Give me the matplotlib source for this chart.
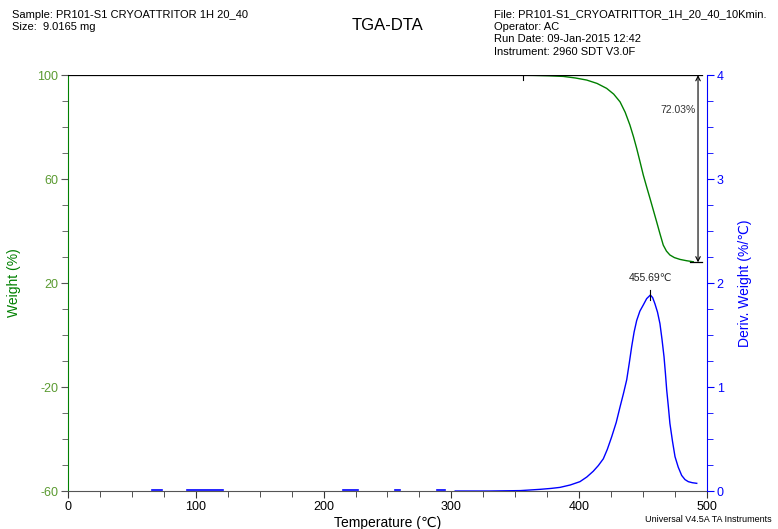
import numpy as np
import matplotlib.pyplot as plt
from matplotlib.ticker import MultipleLocator

plt.rcParams['font.family'] = ['Liberation Sans', 'DejaVu Sans']
plt.rcParams['axes.unicode_minus'] = False

# weight curve (%)
w_temp = [222, 300, 350, 364, 376, 387.6, 397, 405.9, 414, 421.5, 427, 432,
          436, 439.7, 442.5, 445, 447.6, 450.2, 452.8, 455.4, 458, 460.6,
          463.2, 465.8, 468.3, 471, 474.5, 478.9, 484, 489.3]
w_val = [100, 100, 99.98, 99.9, 99.75, 99.5, 98.9, 98.1, 96.8, 94.9, 92.7, 89.7,
         85.7, 80.8, 76.3, 71.8, 66.7, 61.5, 57.0, 52.6, 48.1, 43.6,
         39.0, 34.6, 32.3, 30.8, 29.8, 29.1, 28.6, 28.2]

# derivative weight curve (%/C)
d_temp = [303, 330, 354, 369.3, 378, 385, 393, 400.6, 406, 411, 415, 418.9,
          422, 425.4, 429, 432, 434.7, 437.2, 439.2, 441.1, 443, 445, 447.5,
          450.2, 452.8, 455.7, 457.5, 459.3, 461.3, 463.2, 464.8, 466.4,
          467.5, 468.5, 469.8, 471, 473, 475, 477.5, 480.2, 482.8, 485.4,
          488.5, 492]
d_val = [0.0, 0.0, 0.004, 0.016, 0.025, 0.035, 0.058, 0.09, 0.135, 0.19, 0.245,
         0.31, 0.4, 0.52, 0.66, 0.81, 0.94, 1.07, 1.23, 1.39, 1.53, 1.64, 1.73,
         1.79, 1.85, 1.885, 1.86, 1.80, 1.72, 1.61, 1.46, 1.29, 1.13, 0.97,
         0.81, 0.65, 0.48, 0.33, 0.23, 0.15, 0.11, 0.09, 0.08, 0.074]
# noisy baseline pieces at low temperature
d_noise = [(65.7, 73.5), (93, 121), (215, 227), (256, 260), (289, 295)]

step_start = 356
step_end = 493
w_top = 100.0
w_bot = 27.97
loss_txt = "72.03%"
peak_T = 455.69
peak_d = 1.885

fig = plt.figure(figsize=(7.78, 5.29), dpi=100)
ax = fig.add_axes([0.0874, 0.0718, 0.8213, 0.7862])
ax2 = ax.twinx()

green = "#008000"
blue = "#0000ff"

ax.plot(w_temp, w_val, color=green, lw=1.0, zorder=3)
ax.plot([0, step_end + 3], [w_top, w_top], color="black", lw=0.9, zorder=4)
ax.plot([step_end - 6, step_end + 3], [w_bot, w_bot], color="black", lw=0.9, zorder=4)
ax.plot([step_start, step_start], [w_top - 2, w_top + 2], color="black", lw=0.8, zorder=4)
ax.annotate("", xy=(step_end, w_bot), xytext=(step_end, w_top),
            arrowprops=dict(arrowstyle="<->", color="black", lw=0.8,
                            shrinkA=0, shrinkB=0, mutation_scale=8))
ax.text(step_end - 2, 86.5, loss_txt, fontsize=7.5, ha="right", va="center", color="#333333")

ax2.plot(d_temp, d_val, color=blue, lw=1.0)
for a, b in d_noise:
    ax2.plot([a, b], [0.008, 0.008], color=blue, lw=1.2)
ax2.plot([peak_T, peak_T], [peak_d - 0.05, peak_d + 0.05], color="black", lw=0.8)
ax2.text(peak_T, 2.0, "455.69\u2103", fontsize=7.5, ha="center", va="bottom", color="#222222")

ax.set_xlim(0, 500)
ax.set_ylim(-60, 100)
ax2.set_ylim(0, 4)

ax.xaxis.set_major_locator(MultipleLocator(100))
ax.xaxis.set_minor_locator(MultipleLocator(25))
ax.set_yticks([-60, -20, 20, 60, 100])
ax.yaxis.set_minor_locator(MultipleLocator(10))
ax2.yaxis.set_major_locator(MultipleLocator(1))
ax2.yaxis.set_minor_locator(MultipleLocator(0.25))

ax.spines["top"].set_visible(False)
ax2.spines["top"].set_visible(False)
ax.spines["left"].set_color(green)
ax.spines["bottom"].set_color("#555555")
ax2.spines["right"].set_color(blue)
ax2.spines["left"].set_visible(False)
ax2.spines["bottom"].set_visible(False)
ax.spines["right"].set_visible(False)

ax.tick_params(axis="y", which="both", colors="#5a9a30", labelsize=9, pad=2)
ax.tick_params(axis="y", which="major", length=5, color="#555555")
ax.tick_params(axis="y", which="minor", length=4, color="#555555")
ax.tick_params(axis="x", which="major", length=5, labelsize=9, color="#333333", pad=2)
ax.tick_params(axis="x", which="minor", length=4, color="#333333")
ax2.tick_params(axis="y", which="both", colors=blue, labelsize=9, pad=2)
ax2.tick_params(axis="y", which="major", length=5)
ax2.tick_params(axis="y", which="minor", length=4)

ax.set_xlabel("Temperature (\u2103)", fontsize=10, labelpad=2)
ax.set_ylabel("Weight (%)", fontsize=10, color=green, labelpad=12)
ax2.set_ylabel("Deriv. Weight (%/\u2103)", fontsize=10, color=blue, labelpad=10)

fig.text(12 / 778, 1 - 15 / 529, "Sample: PR101-S1 CRYOATTRITOR 1H 20_40", fontsize=8, va="center")
fig.text(12 / 778, 1 - 27 / 529, "Size:  9.0165 mg", fontsize=8, va="center")
fig.text(387 / 778, 1 - 25 / 529, "TGA-DTA", fontsize=12, ha="center", va="center")
right_lines = ["File: PR101-S1_CRYOATRITTOR_1H_20_40_10Kmin.",
               "Operator: AC",
               "Run Date: 09-Jan-2015 12:42",
               "Instrument: 2960 SDT V3.0F"]
for i, line in enumerate(right_lines):
    fig.text(494 / 778, 1 - (14 + 12.7 * i) / 529, line, fontsize=8, va="center")
fig.text(772 / 778, 1 - 519 / 529, "Universal V4.5A TA Instruments", fontsize=6.5,
         ha="right", va="center")

fig.savefig("out.png", dpi=100)
